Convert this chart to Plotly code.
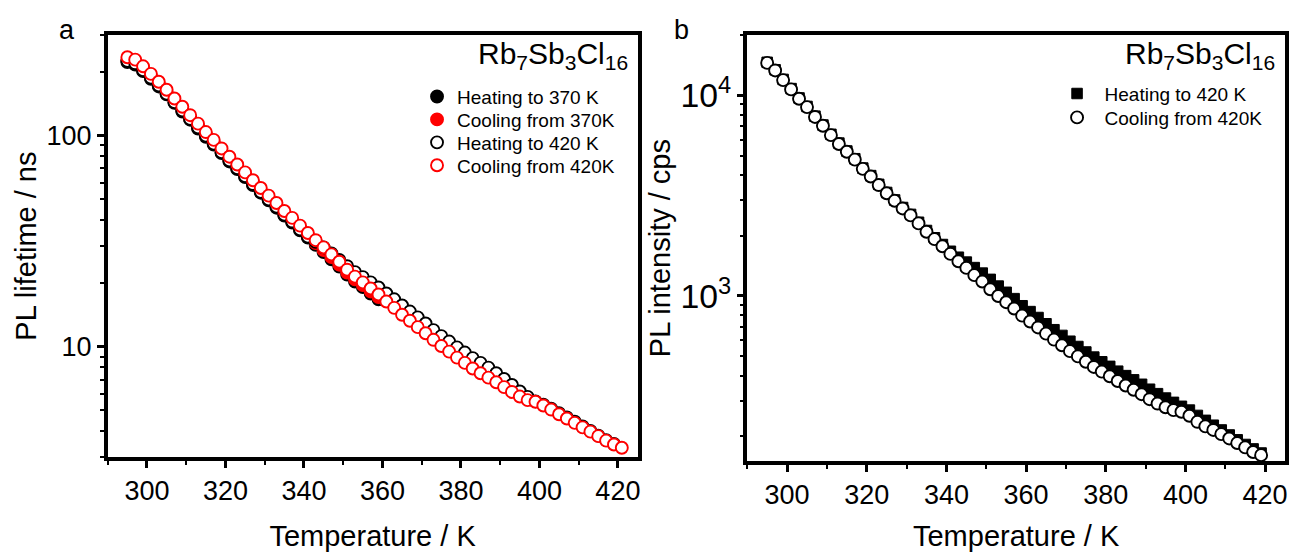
import math
import plotly.graph_objects as go

# ---------------- Panel a data (PL lifetime, ns) ----------------
T_heat370 = [295, 297, 299, 301, 303, 305, 307, 309, 311, 313, 315, 317, 319, 321, 323, 325,
             327, 329, 331, 333, 335, 337, 339, 341, 343, 345, 347, 349, 351, 353, 355, 357, 359]
tau_heat370 = [223, 217, 202, 186, 171, 157, 143, 130, 119, 108, 98.8, 90.7, 82.7, 75.5, 69.4, 63.7,
               58.4, 53.7, 49.4, 45.6, 41.8, 38.8, 35.6, 32.9, 30.4, 28.1, 26.0, 24.0, 22.0, 20.4, 19.2, 17.9, 16.8]

T_cool370 = [295, 297, 299, 301, 303, 305, 307, 309, 311, 313, 315, 317, 319, 321, 323, 325,
             327, 329, 331, 333, 335, 337, 339, 341, 343, 345, 347, 349, 351, 353, 355, 357, 359]
tau_cool370 = [228, 222, 207, 190, 175, 160, 146, 133, 121, 111, 101, 92.6, 84.4, 77.1, 70.8, 65.0,
               59.7, 54.8, 50.4, 46.6, 42.7, 39.6, 36.4, 33.6, 31.0, 28.7, 26.6, 24.5, 22.5, 20.9, 19.6, 18.3, 17.2]

T_heat420 = [295, 297, 299, 301, 303, 305, 307, 309, 311, 313, 315, 317, 319, 321, 323, 325,
             327, 329, 331, 333, 335, 337, 339, 341, 343, 345, 347, 349, 351, 353, 355, 357,
             359, 361, 363, 365, 367, 369, 371, 373, 375, 377, 379, 381, 383, 385, 387, 389,
             391, 393, 395, 397, 399, 401, 403, 405, 407, 409, 411, 413, 415, 417, 419]
tau_heat420 = [226, 220, 204, 188, 173, 158, 144, 131.5, 120, 109.5, 100, 91.7, 83.5, 76.3, 70.1, 64.3,
               59.0, 54.2, 49.9, 46.1, 42.2, 39.2, 36.0, 33.2, 31.4, 29.6, 27.7, 25.8, 24.1, 22.6, 21.4, 20.2,
               19.1, 17.9, 16.8, 15.7, 14.7, 13.8, 12.9, 12.0, 11.25, 10.6, 9.95, 9.4, 8.85, 8.4, 7.98, 7.5,
               7.05, 6.6, 6.15, 5.8, 5.52, 5.33, 5.1, 4.86, 4.63, 4.42, 4.2, 4.0, 3.8, 3.62, 3.47]

T_cool420 = [295, 297, 299, 301, 303, 305, 307, 309, 311, 313, 315, 317, 319, 321, 323, 325,
             327, 329, 331, 333, 335, 337, 339, 341, 343, 345, 347, 349, 351, 353, 355, 357,
             359, 361, 363, 365, 367, 369, 371, 373, 375, 377, 379, 381, 383, 385, 387, 389,
             391, 393, 395, 397, 399, 401, 403, 405, 407, 409, 411, 413, 415, 417, 419, 421]
tau_cool420 = [235, 229, 213, 196, 180, 165, 150, 137, 125, 114, 104, 95.5, 87.0, 79.5, 73.0, 67.0,
               61.5, 56.5, 52.0, 48.0, 44.0, 40.8, 37.5, 34.6, 32.0, 29.6, 27.4, 25.3, 23.2, 21.5, 20.2, 18.9,
               17.7, 16.4, 15.3, 14.2, 13.3, 12.4, 11.6, 10.8, 10.1, 9.50, 8.90, 8.40, 7.90, 7.50, 7.15, 6.80,
               6.45, 6.12, 5.82, 5.60, 5.50, 5.28, 5.05, 4.80, 4.58, 4.37, 4.16, 3.97, 3.78, 3.60, 3.45, 3.33]

# ---------------- Panel b data (PL intensity, cps) ----------------
T_b = [295, 297, 299, 301, 303, 305, 307, 309, 311, 313, 315, 317, 319, 321, 323, 325,
       327, 329, 331, 333, 335, 337, 339, 341, 343, 345, 347, 349, 351, 353, 355, 357,
       359, 361, 363, 365, 367, 369, 371, 373, 375, 377, 379, 381, 383, 385, 387, 389,
       391, 393, 395, 397, 399, 401, 403, 405, 407, 409, 411, 413, 415, 417, 419]
I_heat420 = [14600, 13400, 12000, 10800, 9700, 8800, 7870, 7110, 6390, 5780, 5280, 4830, 4340, 3980, 3600, 3280,
             3010, 2760, 2550, 2330, 2120, 1950, 1805, 1670, 1560, 1475, 1385, 1300, 1210, 1120, 1043, 970,
             894, 836, 781, 727, 679, 636, 595, 560, 526, 496, 470, 446, 422, 401, 382, 363,
             343, 326, 310, 295, 282, 270, 254, 240, 227, 215, 203, 192, 182, 173, 165]
I_cool420 = [14500, 13300, 11900, 10700, 9610, 8730, 7800, 7050, 6330, 5720, 5230, 4780, 4300, 3940, 3570, 3250,
             2980, 2730, 2520, 2300, 2090, 1920, 1770, 1620, 1490, 1380, 1270, 1180, 1080, 1000, 931, 866,
             798, 746, 697, 649, 606, 568, 531, 500, 470, 443, 420, 398, 377, 358, 341, 324,
             306, 291, 279, 270, 265, 253, 236, 224, 215, 205, 195, 185, 176, 167, 161]

x_ticks = [300, 320, 340, 360, 380, 400, 420]

FONT = "Liberation Sans, Arial, sans-serif"
W, H = 1291, 552

fig = go.Figure()

ms = 12
lw = 1.9
RED = "#ff0000"

fig.add_trace(go.Scatter(x=T_heat370, y=tau_heat370, mode="markers", name="Heating to 370 K",
                         marker=dict(symbol="circle", size=ms, color="black", line=dict(color="black", width=lw)),
                         xaxis="x", yaxis="y", legend="legend"))
fig.add_trace(go.Scatter(x=T_cool370, y=tau_cool370, mode="markers", name="Cooling from 370K",
                         marker=dict(symbol="circle", size=ms, color=RED, line=dict(color=RED, width=lw)),
                         xaxis="x", yaxis="y", legend="legend2"))
fig.add_trace(go.Scatter(x=T_heat420, y=tau_heat420, mode="markers", name="Heating to 420 K",
                         marker=dict(symbol="circle", size=ms, color="white", line=dict(color="black", width=lw)),
                         xaxis="x", yaxis="y", legend="legend3"))
fig.add_trace(go.Scatter(x=T_cool420, y=tau_cool420, mode="markers", name="Cooling from 420K",
                         marker=dict(symbol="circle", size=ms, color="white", line=dict(color=RED, width=lw)),
                         xaxis="x", yaxis="y", legend="legend4"))

fig.add_trace(go.Scatter(x=T_b, y=I_heat420, mode="markers", name="Heating to 420 K",
                         marker=dict(symbol="square", size=10.5, color="black", line=dict(color="black", width=1)),
                         xaxis="x2", yaxis="y2", legend="legend5"))
fig.add_trace(go.Scatter(x=T_b, y=I_cool420, mode="markers", name="Cooling from 420K",
                         marker=dict(symbol="circle", size=ms, color="white", line=dict(color="black", width=lw)),
                         xaxis="x2", yaxis="y2", legend="legend6"))

axis_common = dict(showline=True, linecolor="black", linewidth=3.5, mirror=True,
                   ticks="outside", ticklen=7, tickwidth=2.5, tickcolor="black",
                   showgrid=False, zeroline=False,
                   tickfont=dict(family=FONT, size=27, color="black"))

xa = dict(axis_common, range=[290, 425], tickvals=x_ticks,
          minor=dict(dtick=10, tick0=290, ticks="outside", ticklen=4, tickwidth=2, tickcolor="black", showgrid=False),
          title=dict(text="Temperature / K", font=dict(family=FONT, size=29, color="black"), standoff=21))

pxa = [108 / W, 639 / W]
pxb = [749 / W, 1288 / W]
pya = [1 - 459 / H, 1 - 35 / H]
pyb = [1 - 463 / H, 1 - 35 / H]


def leg(xpx, ypx):
    return dict(x=xpx / W, y=1 - ypx / H, xanchor="left", yanchor="middle",
                bgcolor="rgba(0,0,0,0)", borderwidth=0,
                font=dict(family=FONT, size=19, color="black"), itemwidth=30)


fig.update_layout(
    width=W, height=H, margin=dict(l=0, r=0, t=0, b=0),
    paper_bgcolor="white", plot_bgcolor="white",
    font=dict(family=FONT, color="black"),
    xaxis=dict(xa, domain=pxa, anchor="y"),
    xaxis2=dict(xa, domain=pxb, anchor="y2"),
    yaxis=dict(axis_common, type="log", domain=pya, anchor="x",
               range=[math.log10(3), math.log10(300)], dtick=1,
               minor=dict(dtick="D1", ticks="outside", ticklen=4, tickwidth=2, tickcolor="black", showgrid=False),
               title=dict(text="PL lifetime / ns", font=dict(family=FONT, size=29, color="black"), standoff=2)),
    yaxis2=dict(axis_common, type="log", domain=pyb, anchor="x2",
                range=[math.log10(150), math.log10(20000)], dtick=1, exponentformat="power",
                minor=dict(dtick="D1", ticks="outside", ticklen=4, tickwidth=2, tickcolor="black", showgrid=False),
                title=dict(text="PL intensity / cps", font=dict(family=FONT, size=29, color="black"), standoff=2)),
    legend=leg(418, 97),
    legend2=leg(418, 120),
    legend3=leg(418, 143),
    legend4=leg(418, 166),
    legend5=dict(leg(1052, 94), itemwidth=45),
    legend6=dict(leg(1052, 118), itemwidth=45),
    showlegend=True,
    annotations=[
        dict(text="Rb<sub>7</sub>Sb<sub>3</sub>Cl<sub>16</sub>", xref="paper", yref="paper",
             x=631 / W, y=1 - 56 / H, xanchor="right", yanchor="middle", showarrow=False,
             font=dict(family=FONT, size=30, color="black")),
        dict(text="Rb<sub>7</sub>Sb<sub>3</sub>Cl<sub>16</sub>", xref="paper", yref="paper",
             x=1280 / W, y=1 - 56 / H, xanchor="right", yanchor="middle", showarrow=False,
             font=dict(family=FONT, size=30, color="black")),
        dict(text="a", xref="paper", yref="paper", x=67 / W, y=1 - 30 / H,
             xanchor="center", yanchor="middle", showarrow=False,
             font=dict(family=FONT, size=27, color="black")),
        dict(text="b", xref="paper", yref="paper", x=683 / W, y=1 - 30 / H,
             xanchor="center", yanchor="middle", showarrow=False,
             font=dict(family=FONT, size=27, color="black")),
    ],
)

fig.write_html("out.html")
